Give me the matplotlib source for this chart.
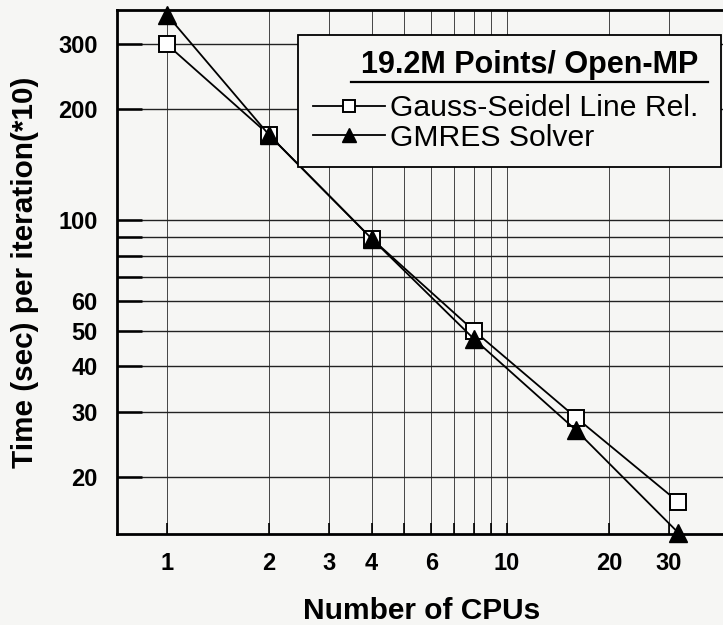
import numpy as np
import matplotlib
matplotlib.use("Agg")
import matplotlib.pyplot as plt
from matplotlib.lines import Line2D

# data
cpus = [1, 2, 4, 8, 16, 32]
gauss_seidel = [300, 170, 89, 50, 29, 17.1]
gmres = [361, 170, 89, 47.5, 26.8, 14.1]

xmajor = [1, 2, 3, 4, 6, 10, 20, 30]
xminor = [5, 7, 8, 9]
ymajor = [20, 30, 40, 50, 60, 100, 200, 300]
yminor = [70, 80, 90]

plt.rcParams['font.family'] = ['Liberation Sans', 'DejaVu Sans']
bg = '#f6f6f4'

fig = plt.figure(figsize=(7.23, 6.25), dpi=100, facecolor=bg)
ax = fig.add_axes([0.1618, 0.1456, 0.842, 0.8384], facecolor=bg)

ax.set_xscale('log')
ax.set_yscale('log')
ax.set_xlim(0.713, 44.1)
ax.set_ylim(14.0, 372)

ax.set_xticks(xmajor)
ax.set_xticklabels([str(v) for v in xmajor])
ax.set_xticks(xminor, minor=True)
ax.set_xticklabels([], minor=True)
ax.set_yticks(ymajor)
ax.set_yticklabels([str(v) for v in ymajor])
ax.set_yticks(yminor, minor=True)
ax.set_yticklabels([], minor=True)

for v in xmajor + xminor:
    ax.axvline(v, color='#444444', lw=0.7, zorder=1)
for v in ymajor + yminor:
    ax.axhline(v, color='#222222', lw=1.0, zorder=1)

ax.tick_params(axis='x', which='both', direction='in', length=8, width=1.2,
               pad=13, labelsize=17)
ax.tick_params(axis='y', which='both', direction='in', length=18, width=1.8,
               pad=14, labelsize=17)
for lab in ax.get_xticklabels() + ax.get_yticklabels():
    lab.set_fontweight('bold')

for s in ax.spines.values():
    s.set_linewidth(2.0)

ax.plot(cpus, gauss_seidel, color='black', lw=1.3, marker='s', ms=11,
        mfc='white', mec='black', mew=1.4, label='Gauss-Seidel Line Rel.',
        zorder=3, clip_on=False)
ax.plot(cpus, gmres, color='black', lw=1.3, marker='^', ms=13,
        mfc='black', mec='black', label='GMRES Solver', zorder=4,
        clip_on=False)

ax.set_xlabel('Number of CPUs', fontsize=21.5, fontweight='bold', labelpad=16)
ax.set_ylabel('Time (sec) per iteration(*10)', fontsize=21.4,
              fontweight='bold')
ax.yaxis.set_label_coords(-0.128, 0.5)

leg = ax.legend(loc='upper left', bbox_to_anchor=(0.297, 0.5, 0.696, 0.452),
                mode='expand', borderaxespad=0, fontsize=21.7,
                title='19.2M Points/ Open-MP ',
                title_fontproperties={'weight': 'bold', 'size': 22},
                fancybox=False, edgecolor='black', facecolor=bg,
                framealpha=1, handlelength=2.4, handletextpad=0.15,
                labelspacing=0.05, borderpad=0.5, markerscale=0.8,
                alignment='right')
leg.get_frame().set_linewidth(1.3)
leg.set_zorder(5)
# extra room between the underlined title and the entries
leg._legend_box.sep = 10

fig.canvas.draw()
bb = leg.get_title().get_window_extent()
inv = fig.transFigure.inverted()
p0 = inv.transform((bb.x0 - 10, bb.y0 - 2))
p1 = inv.transform((bb.x1 + 2, bb.y0 - 2))
fig.add_artist(Line2D([p0[0], p1[0]], [p0[1], p1[1]], color='black', lw=1.6,
                      transform=fig.transFigure, zorder=6))

fig.savefig('out.png', dpi=100, facecolor=bg)
